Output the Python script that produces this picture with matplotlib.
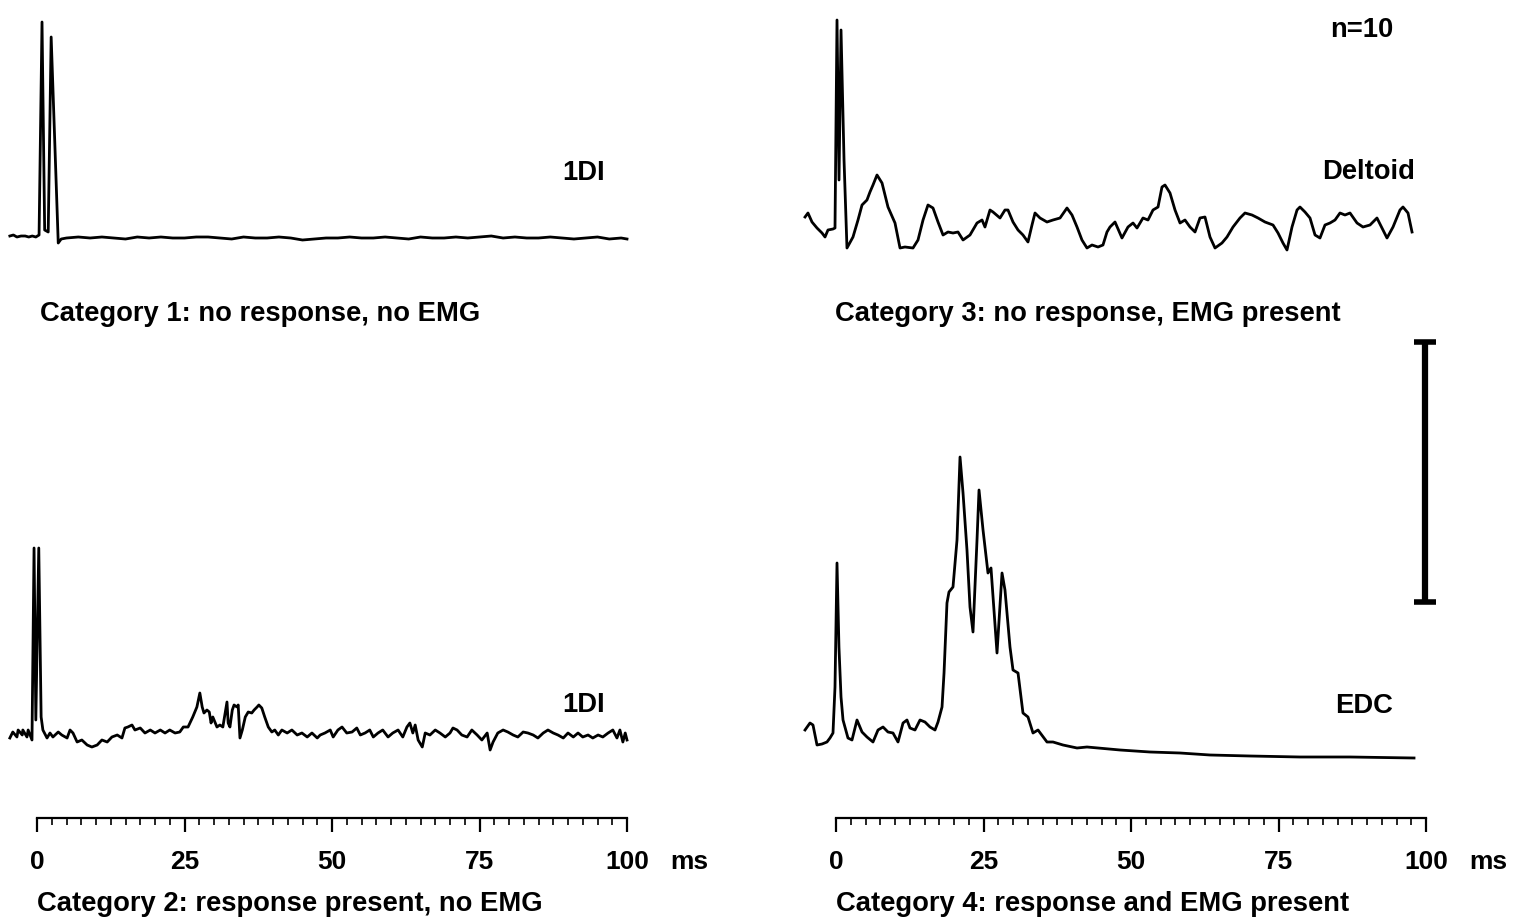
import matplotlib
matplotlib.use("Agg")
import matplotlib.pyplot as plt
from matplotlib.ticker import MultipleLocator
import matplotlib.transforms as mtransforms

plt.rcParams['font.family'] = ['Liberation Sans', 'DejaVu Sans']
plt.rcParams['font.weight'] = 'bold'

# averaged EMG traces (n=10), time in ms, amplitude in arbitrary units
# category 1: 1DI, no response, no EMG
tl_t = [-4.6, -4.0, -3.4, -2.7, -2.0, -1.4, -0.8, -0.2, 0.35, 0.85,
        1.3, 1.9, 2.4, 3.6, 4.1,
        5, 7, 9, 11, 13, 15, 17, 19, 21, 23,
        25, 27, 29, 31, 33, 35, 37, 39, 41, 43,
        45, 47, 49, 51, 53, 55, 57, 59, 61, 63,
        65, 67, 69, 71, 73, 75, 77, 79, 81, 83,
        85, 87, 89, 91, 93, 95, 97, 99, 100]
tl_a = [2, 3, 1, 2, 2, 1, 2, 1, 3, 216,
        8, 6, 201, -5, -1,
        0, 1, 0, 1, 0, -1, 1, 0, 1, 0,
        0, 1, 1, 0, -1, 1, 0, 0, 1, 0,
        -2, -1, 0, 0, 1, 0, 0, 1, 0, -1,
        1, 0, 0, 1, 0, 1, 2, 0, 1, 0,
        0, 1, 0, -1, 0, 1, -1, 0, -1]

# category 2: 1DI, response present, no EMG
bl_t = [-4.6, -4.1, -3.4, -3.2, -2.5, -2.4, -1.7, -1.5, -0.85, -0.5,
        -0.2, 0.3, 0.7, 1.0, 1.7, 2.2, 2.7, 3.6, 4.2, 5.1,
        5.6, 6.1, 6.8, 7.6, 8.5, 9.3, 10.2, 11.0, 11.9, 12.7,
        13.6, 14.4, 14.9, 15.4, 16.1, 16.6, 17.5, 18.3, 19.2, 20.0,
        20.9, 21.7, 22.5, 23.4, 24.2, 24.8, 25.6, 26.4, 27.1, 27.6,
        28.0, 28.3, 28.8, 29.2, 29.5, 29.8, 30.5, 31.0, 31.5, 31.9,
        32.2, 32.4, 32.7, 33.1, 33.4, 33.9, 34.1, 34.4, 34.8, 35.3,
        35.8, 36.4, 36.8, 37.3, 37.6, 38.1, 38.6, 39.2, 39.8, 40.3,
        40.9, 41.5, 42.4, 43.2, 44.1, 44.9, 45.8, 46.6, 47.5, 48.0,
        48.8, 49.7, 50.2, 51.0, 51.7, 52.5, 53.4, 54.2, 54.8, 55.6,
        56.4, 57.0, 57.8, 58.6, 59.5, 60.3, 61.2, 62.0, 62.7, 63.2,
        63.7, 64.1, 64.6, 65.3, 65.8, 66.6, 67.5, 68.3, 69.2, 70.0,
        70.5, 71.2, 72.0, 72.9, 73.7, 74.6, 75.4, 76.3, 76.8, 77.3,
        78.1, 79.0, 79.8, 80.7, 81.5, 82.4, 83.2, 84.1, 84.9, 85.8,
        86.6, 87.5, 88.3, 89.2, 90.0, 90.9, 91.7, 92.5, 93.4, 94.2,
        95.1, 95.9, 96.8, 97.6, 98.3, 98.8, 99.3, 99.7, 100.0]
bl_a = [2, 8, 3, 10, 5, 10, 3, 10, 0, 192,
        20, 192, 23, 10, 2, 7, 3, 8, 5, 2,
        10, 7, -2, 0, -5, -7, -5, 0, -2, 3,
        5, 2, 12, 13, 15, 10, 12, 7, 10, 7,
        10, 7, 10, 7, 8, 13, 13, 23, 33, 47,
        33, 27, 30, 28, 17, 23, 13, 15, 13, 27,
        38, 17, 13, 30, 35, 33, 35, 2, 10, 23,
        28, 27, 30, 33, 35, 32, 23, 13, 8, 10,
        5, 10, 7, 10, 5, 7, 3, 7, 2, 5,
        7, 10, 3, 10, 13, 7, 8, 12, 5, 7,
        10, 3, 7, 10, 3, 7, 10, 3, 13, 17,
        7, 15, 0, -7, 7, 5, 10, 7, 3, 7,
        12, 10, 5, 3, 10, 5, 0, 7, -10, -2,
        7, 10, 8, 5, 3, 8, 7, 5, 2, 7,
        10, 7, 5, 2, 7, 3, 7, 3, 5, 2,
        5, 3, 7, 10, 2, 10, -2, 7, 0]

# category 3: deltoid, no response, EMG present
tr_t = [-5.25, -4.75, -4.07, -3.22, -2.37, -1.86, -1.36, -0.51, -0.17, 0.17,
        0.51, 0.85, 1.36, 1.86, 2.88, 3.73, 4.41, 5.25, 5.76, 6.27,
        6.95, 7.80, 8.81, 10.0, 10.85, 11.69, 13.05, 13.90, 14.75, 15.59,
        16.44, 17.29, 18.14, 18.98, 19.83, 20.68, 21.53, 22.71, 23.90, 24.75,
        25.25, 26.10, 26.61, 27.80, 28.64, 29.15, 30.0, 30.85, 31.69, 32.54,
        33.22, 33.73, 34.58, 35.76, 36.78, 37.97, 39.15, 40.0, 40.85, 41.69,
        42.54, 43.39, 44.41, 45.25, 45.93, 46.44, 47.29, 48.47, 49.49, 50.34,
        51.02, 52.03, 52.88, 53.73, 54.58, 55.25, 55.76, 56.61, 57.46, 58.31,
        59.15, 60.0, 60.85, 61.69, 62.54, 63.39, 64.24, 65.42, 66.27, 67.29,
        68.47, 69.32, 70.51, 71.53, 72.71, 74.07, 74.92, 75.76, 76.44, 77.29,
        78.14, 78.64, 79.49, 80.34, 81.19, 82.03, 82.88, 83.73, 84.58, 85.42,
        86.27, 87.12, 88.31, 89.32, 90.51, 91.69, 92.54, 93.39, 94.41, 95.59,
        96.10, 96.95, 97.63]
tr_a = [23, 27, 18, 12, 7, 3, 10, 11, 12, 220,
        60, 210, 80, -8, 3, 20, 35, 40, 48, 55,
        65, 57, 33, 17, -8, -7, -8, 0, 20, 35,
        32, 18, 5, 8, 7, 8, 0, 5, 17, 20,
        13, 30, 28, 22, 30, 30, 18, 10, 5, -2,
        15, 27, 22, 18, 20, 22, 32, 25, 13, 0,
        -8, -5, -7, -5, 8, 13, 18, 2, 13, 17,
        12, 22, 20, 30, 33, 53, 55, 47, 30, 17,
        20, 13, 8, 22, 23, 3, -8, -3, 3, 13,
        22, 27, 25, 22, 18, 15, 7, -3, -10, 13,
        30, 33, 28, 22, 5, 2, 15, 17, 20, 27,
        25, 27, 17, 13, 15, 22, 12, 2, 13, 30,
        33, 27, 8]

# category 4: EDC, response and EMG present
br_t = [-5.25, -4.41, -3.90, -3.22, -2.37, -1.53, -1.02, -0.51, -0.17, 0.17,
        0.5, 0.85, 1.19, 2.03, 2.71, 3.56, 4.41, 5.25, 6.27, 7.12,
        7.97, 8.81, 9.66, 10.51, 11.36, 12.03, 12.54, 13.39, 14.24, 15.08,
        15.93, 16.78, 17.29, 17.97, 18.31, 18.81, 19.15, 19.83, 20.51, 21.02,
        21.53, 22.20, 22.71, 23.22, 23.90, 24.24, 24.92, 25.76, 26.27, 27.29,
        28.14, 28.64, 29.49, 30.0, 30.85, 31.69, 32.54, 33.39, 34.24, 35.76,
        36.78, 38.47, 40.85, 42.54, 44.41, 48.14, 53.22, 58.31, 63.39, 70.17,
        78.64, 87.12, 97.97]
br_a = [27, 34, 32, 12, 13, 15, 19, 24, 70, 194,
        110, 60, 37, 19, 17, 37, 25, 20, 15, 27,
        30, 25, 24, 15, 34, 37, 29, 27, 37, 35,
        30, 27, 35, 50, 84, 154, 165, 170, 217, 300,
        264, 207, 150, 125, 217, 267, 227, 184, 189, 104,
        184, 167, 110, 87, 84, 44, 40, 24, 27, 15,
        15, 12, 9, 10, 9, 7, 5, 4, 2, 1,
        0, 0, -1]

muscles = ['1DI', 'Deltoid', '1DI', 'EDC']
captions = ['Category 1: no response, no EMG',
            'Category 3: no response, EMG present',
            'Category 2: response present, no EMG',
            'Category 4: response and EMG present']
ruler_ticks = [0, 25, 50, 75, 100]
cal_height = 260   # calibration bar, same units as traces

W, H = 1516, 921
PX_MS = 5.9
fig = plt.figure(figsize=(W / 100, H / 100), dpi=100)


def fx(px):
    return px / W


def fy(py):
    return 1 - py / H


def trace_axes(left, right, top, bottom, zero_px, base_px):
    ax = fig.add_axes([fx(left), fy(bottom), (right - left) / W, (bottom - top) / H])
    ax.set_xlim((left - zero_px) / PX_MS, (right - zero_px) / PX_MS)
    ax.set_ylim(base_px - bottom, base_px - top)
    ax.axis('off')
    return ax


ax_tl = trace_axes(0, 760, 0, 330, 37, 238)
ax_tr = trace_axes(780, 1516, 0, 330, 836, 240)
ax_bl = trace_axes(0, 760, 330, 800, 37, 740)
ax_br = trace_axes(780, 1516, 330, 800, 836, 757)

lw = 2.0
for ax, t, a in [(ax_tl, tl_t, tl_a), (ax_tr, tr_t, tr_a),
                 (ax_bl, bl_t, bl_a), (ax_br, br_t, br_a)]:
    ax.plot(t, a, color='black', lw=lw, solid_joinstyle='round')

# calibration bar
ax_br.vlines(99.8, 155, 155 + cal_height, color='black', lw=4.5)
ax_br.hlines([155, 155 + cal_height], 97.9, 101.7, color='black', lw=4)

fs = 19.7


def ruler(zero_px, y_px):
    ax = fig.add_axes([fx(zero_px), fy(y_px), 100 * PX_MS / W, 0.0001])
    ax.set_xlim(0, 100)
    ax.set_yticks([])
    for s in ['left', 'right', 'bottom']:
        ax.spines[s].set_visible(False)
    ax.spines['top'].set_linewidth(1.6)
    ax.set_xticks(ruler_ticks)
    ax.xaxis.set_minor_locator(MultipleLocator(2.5))
    ax.tick_params(axis='x', which='both', top=True, bottom=False,
                   direction='in', labeltop=False, labelbottom=True)
    ax.tick_params(axis='x', which='major', length=10, width=1.6, pad=23,
                   labelsize=19)
    ax.tick_params(axis='x', which='minor', length=5, width=1.2)
    tr = mtransforms.blended_transform_factory(ax.transData, fig.transFigure)
    ax.text(110.6, fy(862), 'ms', transform=tr, ha='center', va='center',
            fontsize=19)
    return ax


ruler(37, 818)
ruler(836, 818)

fig.text(fx(40), fy(314), captions[0], ha='left', va='center', fontsize=fs)
fig.text(fx(835), fy(314), captions[1], ha='left', va='center', fontsize=fs)
fig.text(fx(37), fy(904), captions[2], ha='left', va='center', fontsize=fs)
fig.text(fx(836), fy(904), captions[3], ha='left', va='center', fontsize=fs)

fig.text(fx(584), fy(173), muscles[0], ha='center', va='center', fontsize=fs)
fig.text(fx(1415), fy(172), muscles[1], ha='right', va='center', fontsize=fs)
fig.text(fx(584), fy(705), muscles[2], ha='center', va='center', fontsize=fs)
fig.text(fx(1364), fy(706), muscles[3], ha='center', va='center', fontsize=fs)
fig.text(fx(1362), fy(30), 'n=10', ha='center', va='center', fontsize=fs)

fig.savefig('out.png', dpi=100)
